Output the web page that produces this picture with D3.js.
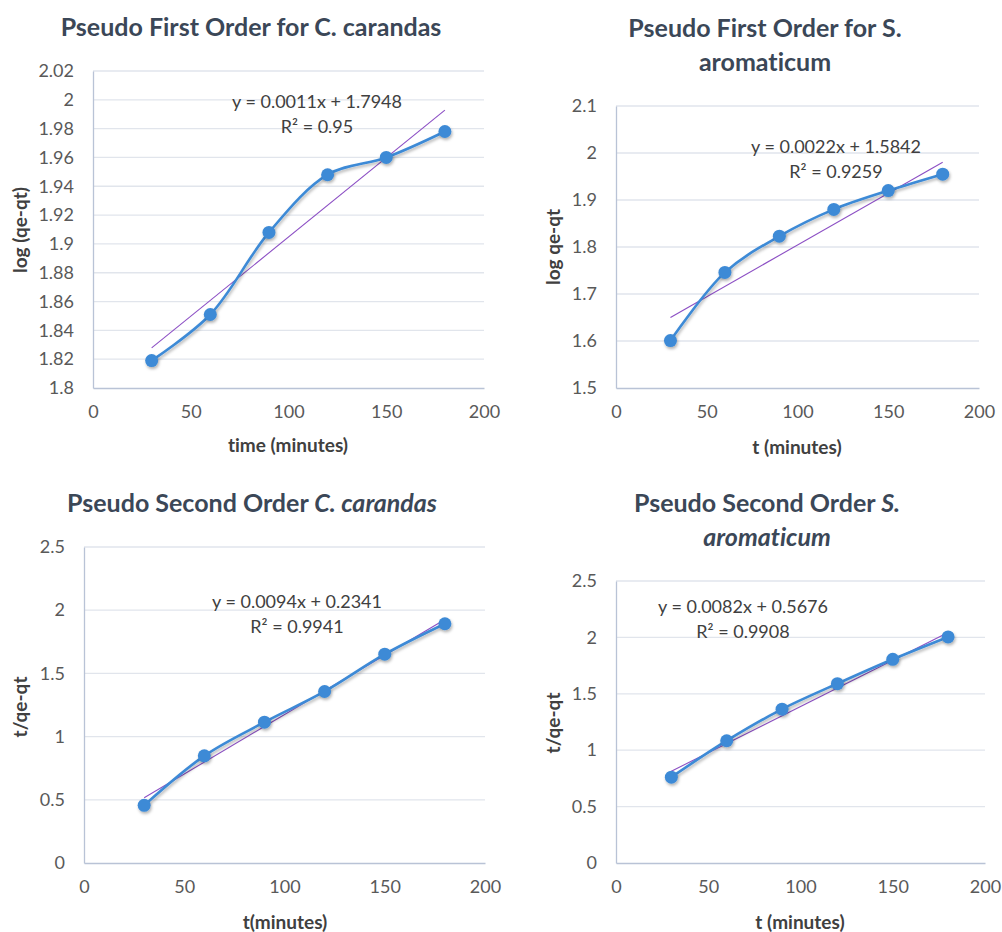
<!DOCTYPE html>
<html>
<head>
<meta charset="utf-8">
<script src="https://cdn.jsdelivr.net/npm/d3@7"></script>
<style>
  body { margin: 0; background: #fff; }
  svg { display: block; font-family: Lato, "Open Sans", sans-serif; font-variant-ligatures: none; }
</style>
</head>
<body>
<div id="viz"></div>
<script>
// data
const times = [30, 60, 90, 120, 150, 180];

const firstCarandas = [1.819, 1.851, 1.908, 1.948, 1.960, 1.978];
const firstAromaticum = [1.601, 1.746, 1.823, 1.880, 1.920, 1.955];
const secondCarandas = [0.456, 0.848, 1.114, 1.357, 1.652, 1.893];
const secondAromaticum = [0.761, 1.084, 1.364, 1.590, 1.806, 2.004];

// trendline coefficients [slope, intercept, r2] as printed
const fitFirstCarandas = [0.0011, 1.7948, '0.95'];
const fitFirstAromaticum = [0.0022, 1.5842, '0.9259'];
const fitSecondCarandas = [0.0094, 0.2341, '0.9941'];
const fitSecondAromaticum = [0.0082, 0.5676, '0.9908'];

const xTicks = [0, 50, 100, 150, 200];
const yTicksFirstCarandas = [1.8, 1.82, 1.84, 1.86, 1.88, 1.9, 1.92, 1.94, 1.96, 1.98, 2, 2.02];
const yTicksFirstAromaticum = [1.5, 1.6, 1.7, 1.8, 1.9, 2, 2.1];
const yTicksSecond = [0, 0.5, 1, 1.5, 2, 2.5];

const width = 1002;
const height = 932;

const lineColour = '#3d8ad6';
const trendColour = '#8c4fc4';
const gridColour = '#e1e5ec';
const axisColour = '#b9c3d6';
const tickColour = '#595959';
const titleColour = '#3b4757';

const svg = d3.select('#viz').append('svg')
    .attr('width', width)
    .attr('height', height);

svg.append('defs').append('filter')
    .attr('id', 'shadow')
    .attr('x', '-50%').attr('y', '-50%')
    .attr('width', '200%').attr('height', '200%')
    .append('feDropShadow')
    .attr('dx', 1).attr('dy', 2)
    .attr('stdDeviation', 1.5)
    .attr('flood-color', '#000')
    .attr('flood-opacity', 0.3);

const panels = [
    {
        values: firstCarandas, fit: fitFirstCarandas, yTicks: yTicksFirstCarandas,
        box: { left: 93, right: 484, top: 71, bottom: 388 },
        title: [[['Pseudo First Order for C. carandas', false]]],
        titlePos: [251, 36],
        xLabel: 'time (minutes)', xLabelPos: [288, 452],
        yLabel: 'log (qe-qt)', yLabelPos: [20, 230],
        eqPos: [317, 108]
    },
    {
        values: firstAromaticum, fit: fitFirstAromaticum, yTicks: yTicksFirstAromaticum,
        box: { left: 616, right: 979, top: 106, bottom: 388 },
        title: [[['Pseudo First Order for S.', false]], [['aromaticum', false]]],
        titlePos: [765, 37],
        xLabel: 't (minutes)', xLabelPos: [797, 454],
        yLabel: 'log qe-qt', yLabelPos: [553, 247],
        eqPos: [836, 153]
    },
    {
        values: secondCarandas, fit: fitSecondCarandas, yTicks: yTicksSecond,
        box: { left: 84, right: 485, top: 547, bottom: 863 },
        title: [[['Pseudo Second Order ', false], ['C. carandas', true]]],
        titlePos: [252, 512],
        xLabel: 't(minutes)', xLabelPos: [285, 929],
        yLabel: 't/qe-qt', yLabelPos: [20, 707],
        eqPos: [297, 608]
    },
    {
        values: secondAromaticum, fit: fitSecondAromaticum, yTicks: yTicksSecond,
        box: { left: 616, right: 985, top: 581, bottom: 863 },
        title: [[['Pseudo Second Order ', false], ['S.', true]], [['aromaticum', true]]],
        titlePos: [767, 512],
        xLabel: 't (minutes)', xLabelPos: [800, 929],
        yLabel: 't/qe-qt', yLabelPos: [553, 723],
        eqPos: [743, 613]
    }
];

panels.forEach((p) => {
    const g = svg.append('g');
    const b = p.box;

    const xScale = d3.scaleLinear()
        .domain([xTicks[0], xTicks[xTicks.length - 1]])
        .range([b.left, b.right]);
    const yScale = d3.scaleLinear()
        .domain([p.yTicks[0], p.yTicks[p.yTicks.length - 1]])
        .range([b.bottom, b.top]);

    // gridlines
    g.append('g')
        .selectAll('line').data(p.yTicks.slice(1))
        .enter().append('line')
            .attr('x1', b.left).attr('x2', b.right)
            .attr('y1', (d) => yScale(d)).attr('y2', (d) => yScale(d))
            .style('stroke', gridColour)
            .style('stroke-width', 1.3);

    // axes
    const yAxis = g.append('g')
        .attr('transform', 'translate(' + b.left + ',0)')
        .call(d3.axisLeft(yScale).tickValues(p.yTicks).tickSize(0).tickPadding(19).tickFormat((d) => String(d)));
    const xAxis = g.append('g')
        .attr('transform', 'translate(0,' + b.bottom + ')')
        .call(d3.axisBottom(xScale).tickValues(xTicks).tickSize(0).tickPadding(17).tickFormat((d) => String(d)));
    [yAxis, xAxis].forEach((ax) => {
        ax.select('.domain').style('stroke', axisColour).style('stroke-width', 1.3);
        ax.selectAll('text')
            .style('font-size', '18px')
            .style('fill', tickColour)
            .style('font-family', 'Lato, sans-serif');
    });

    // trendline
    const fitLine = times.map((t) => [t, p.fit[0] * t + p.fit[1]]);
    const ends = [fitLine[0], fitLine[fitLine.length - 1]];
    g.append('line')
        .attr('x1', xScale(ends[0][0])).attr('y1', yScale(ends[0][1]))
        .attr('x2', xScale(ends[1][0])).attr('y2', yScale(ends[1][1]))
        .style('stroke', trendColour)
        .style('stroke-width', 1.1);

    // data series
    const pts = times.map((t, i) => [t, p.values[i]]);
    const line = d3.line()
        .x((d) => xScale(d[0]))
        .y((d) => yScale(d[1]))
        .curve(d3.curveCatmullRom.alpha(0.5));
    g.append('path')
        .datum(pts)
        .attr('d', line)
        .style('fill', 'none')
        .style('stroke', lineColour)
        .style('stroke-width', 2.6)
        .attr('filter', 'url(#shadow)');

    g.append('g')
        .selectAll('circle').data(pts)
        .enter().append('circle')
            .attr('cx', (d) => xScale(d[0]))
            .attr('cy', (d) => yScale(d[1]))
            .attr('r', 6.5)
            .style('fill', lineColour)
            .attr('filter', 'url(#shadow)');

    // equation
    const eq = g.append('g').style('font-size', '18px').style('fill', '#404040');
    eq.append('text')
        .attr('x', p.eqPos[0]).attr('y', p.eqPos[1])
        .attr('text-anchor', 'middle')
        .text('y = ' + p.fit[0] + 'x + ' + p.fit[1]);
    eq.append('text')
        .attr('x', p.eqPos[0]).attr('y', p.eqPos[1] + 25)
        .attr('text-anchor', 'middle')
        .text('R² = ' + p.fit[2]);

    // title
    p.title.forEach((row, i) => {
        const t = g.append('text')
            .attr('x', p.titlePos[0])
            .attr('y', p.titlePos[1] + i * 34)
            .attr('text-anchor', 'middle')
            .style('font-size', '25px')
            .style('font-weight', 'bold')
            .style('fill', titleColour);
        row.forEach((part) => {
            t.append('tspan')
                .style('font-style', part[1] ? 'italic' : 'normal')
                .text(part[0]);
        });
    });

    // axis titles
    g.append('text')
        .attr('x', p.xLabelPos[0]).attr('y', p.xLabelPos[1])
        .attr('text-anchor', 'middle')
        .style('font-size', '19px')
        .style('font-weight', 'bold')
        .style('fill', '#404040')
        .text(p.xLabel);
    g.append('text')
        .attr('transform', 'translate(' + p.yLabelPos[0] + ',' + p.yLabelPos[1] + ') rotate(-90)')
        .attr('text-anchor', 'middle')
        .attr('dy', '0.35em')
        .style('font-size', '19px')
        .style('font-weight', 'bold')
        .style('fill', '#404040')
        .text(p.yLabel);
});
</script>
</body>
</html>
